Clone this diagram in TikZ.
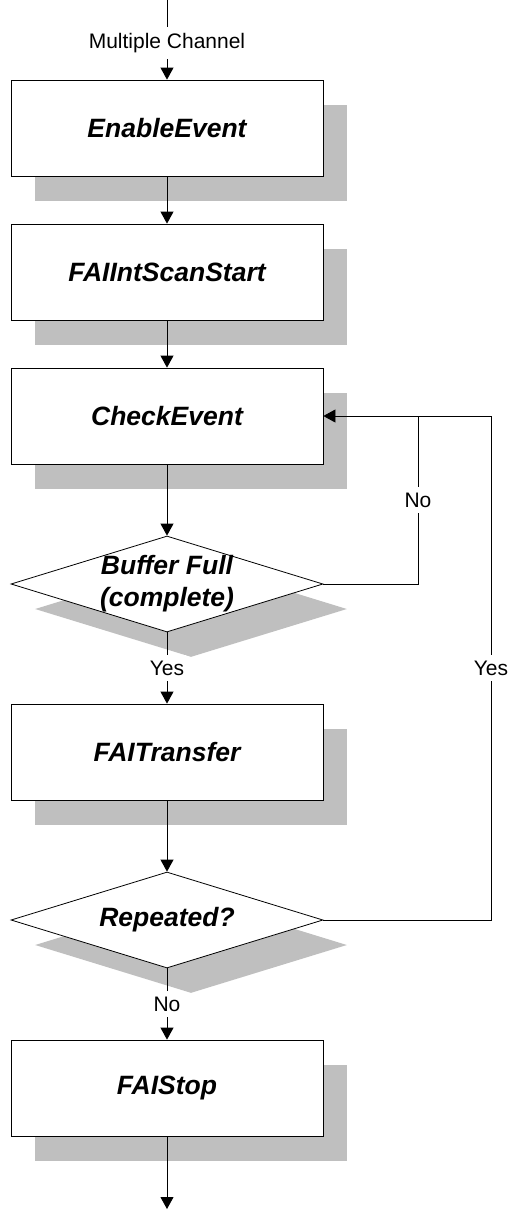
\documentclass[tikz,border=0pt]{standalone}
\usepackage{fontspec}
\setmainfont{Liberation Sans}
\usetikzlibrary{shapes.geometric,shadows,arrows.meta}
\begin{document}
\begin{tikzpicture}[x=1pt,y=-1pt,
  line/.style={line width=0.8pt},
  arr/.style={line width=0.8pt,-{Triangle[length=12pt,width=13pt]}},
  shad/.style={drop shadow={shadow xshift=24pt,shadow yshift=-25pt,fill=black!25,opacity=1}},
  boxfont/.style={font=\fontsize{26.5}{32}\selectfont\bfseries\itshape},
  proc/.style={draw,line width=0.8pt,fill=white,minimum width=312pt,minimum height=96pt,inner sep=0pt,shad,boxfont},
  dec/.style={draw,line width=0.8pt,fill=white,diamond,minimum width=312pt,minimum height=96pt,inner sep=0pt,shad},
  dtext/.style={boxfont,align=center,inner sep=0pt},
  lbl/.style={fill=white,inner xsep=2pt,inner ysep=6pt,font=\fontsize{21}{25}\selectfont}
]
\useasboundingbox (0,0) rectangle (515,1210);

\coordinate (start) at (167,0);
\coordinate (stop) at (167,1209);
\coordinate (nocorner) at (418,584);
\coordinate (yescorner) at (491,920);

\node[proc] (b1) at (167,128) {EnableEvent};
\node[proc] (b2) at (167,272) {FAIIntScanStart};
\node[proc] (b3) at (167,416) {CheckEvent};
\node[dec] (d1) at (167,584) {};
\node[dtext] (d1t) at (d1.center) {Buffer Full\\(complete)};
\node[proc] (b4) at (167,752) {FAITransfer};
\node[dec] (d2) at (167,920) {};
\node[dtext] (d2t) at (d2.center) {Repeated?};
\node[proc] (b5) at (167,1088) {FAIStop};

\draw[arr] (start) -- (b1.north);
\draw[arr] (b1.south) -- (b2.north);
\draw[arr] (b2.south) -- (b3.north);
\draw[arr] (b3.south) -- (d1.north);
\draw[arr] (d1.south) -- (b4.north);
\draw[arr] (b4.south) -- (d2.north);
\draw[arr] (d2.south) -- (b5.north);
\draw[arr] (b5.south) -- (stop);
\draw[line] (d1.east) -- (nocorner) -- (nocorner |- b3.east);
\draw[arr] (d2.east) -- (yescorner) -- (yescorner |- b3.east) -- (b3.east);

\node[lbl] (lmc) at (167,43) {Multiple Channel};
\node[lbl] (lyes1) at (167,668) {Yes};
\node[lbl] (lno1) at (418,500) {No};
\node[lbl] (lyes2) at (491,668) {Yes};
\node[lbl] (lno2) at (167,1004) {No};
\end{tikzpicture}
\end{document}
